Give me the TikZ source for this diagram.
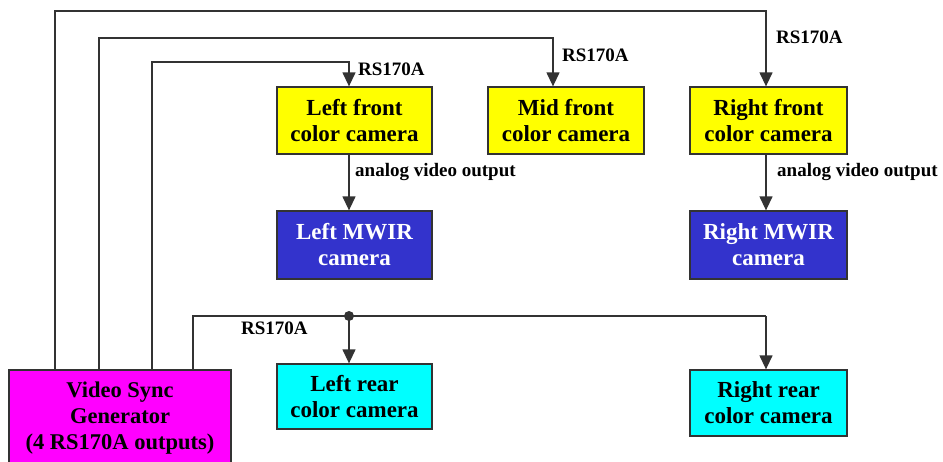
\documentclass[tikz,border=0pt]{standalone}
\usepackage{fontspec}
\setmainfont{Liberation Serif}
\usetikzlibrary{arrows.meta}
\definecolor{mwir}{HTML}{3333CC}
\definecolor{camy}{HTML}{FFFF00}
\definecolor{camc}{HTML}{00FFFF}
\definecolor{camm}{HTML}{FF00FF}
\definecolor{lc}{HTML}{333333}
\begin{document}
\begin{tikzpicture}[x=1pt,y=-1pt,
  box/.style={draw=lc,line width=1.3pt,align=center,font=\fontsize{23}{26}\selectfont\bfseries,inner sep=0pt},
  line/.style={draw=lc,line width=1.3pt},
  arr/.style={line,-{Triangle[length=14pt,width=13pt]}},
  lab/.style={font=\fontsize{19}{21}\selectfont\bfseries,anchor=west,inner sep=0pt}]
\useasboundingbox (0,0) rectangle (943,461);
\fill[white] (0,0) rectangle (943,461);
% boxes
\node[box,fill=camy,minimum width=155pt,minimum height=67pt] (lf) at (354.5,120.5) {Left front\\color camera};
\node[box,fill=camy,minimum width=156pt,minimum height=67pt] (mf) at (566,120.5) {Mid front\\color camera};
\node[box,fill=camy,minimum width=157pt,minimum height=67pt] (rf) at (768.5,120.5) {Right front\\color camera};
\node[box,fill=mwir,text=white,minimum width=155pt,minimum height=68pt] (lm) at (354.5,245) {Left MWIR\\camera};
\node[box,fill=mwir,text=white,minimum width=157pt,minimum height=68pt] (rm) at (768.5,245) {Right MWIR\\camera};
\node[box,fill=camc,minimum width=155pt,minimum height=65pt] (lr) at (354.5,396.5) {Left rear\\color camera};
\node[box,fill=camc,minimum width=157pt,minimum height=66pt] (rr) at (768.5,403) {Right rear\\color camera};
\node[box,fill=camm,minimum width=222pt,minimum height=96pt,font=\fontsize{22.5}{26}\selectfont\bfseries] (vs) at (120,418) {Video Sync\\Generator\\(4 RS170A outputs)};
% routing points
\coordinate (c1) at (766,11);
\coordinate (c2) at (553,38);
\coordinate (c3) at (349,62);
\coordinate (jn) at (349,316);
\coordinate (c4) at (766,316);
% connectors
\draw[arr] ([xshift=-65pt]vs.north) |- (c1) -- ([xshift=-2.5pt]rf.north);
\draw[arr] ([xshift=-21pt]vs.north) |- (c2) -- ([xshift=-13pt]mf.north);
\draw[arr] ([xshift=32pt]vs.north) |- (c3) -- ([xshift=-5.5pt]lf.north);
\draw[line] ([xshift=73pt]vs.north) |- (jn) -- (c4);
\draw[arr] (c4) -- ([xshift=-2.5pt]rr.north);
\draw[arr] (jn) -- ([xshift=-5.5pt]lr.north);
\fill[lc] (jn) circle (5pt);
\draw[arr] ([xshift=-5.5pt]lf.south) -- ([xshift=-5.5pt]lm.north);
\draw[arr] ([xshift=-2.5pt]rf.south) -- ([xshift=-2.5pt]rm.north);
% labels
\node[lab] (l1) at (358,69) {RS170A};
\node[lab] (l2) at (562,55) {RS170A};
\node[lab] (l3) at (776,37) {RS170A};
\node[lab] (l4) at (241,328) {RS170A};
\node[lab] (l5) at (355,172) {analog video output};
\node[lab] (l6) at (777,172) {analog video output};
\end{tikzpicture}
\end{document}
